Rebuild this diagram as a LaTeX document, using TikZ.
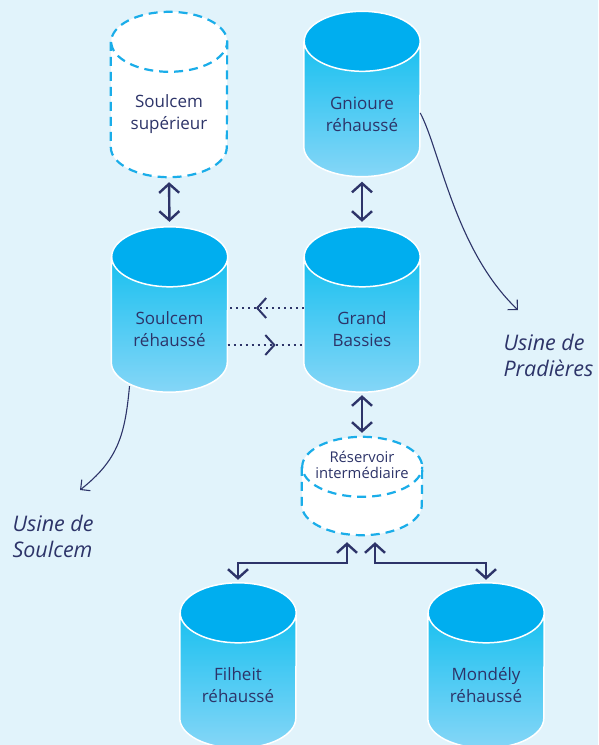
\documentclass[tikz,border=0pt]{standalone}
\usepackage{fontspec}
\setmainfont{Open Sans}
\usetikzlibrary{arrows.meta,decorations.markings,positioning}

\definecolor{fond}{HTML}{E1F3FB}
\definecolor{bleuhaut}{HTML}{00AEEF}
\definecolor{bleucorps}{HTML}{00BBEE}
\definecolor{bleubas}{HTML}{85D6F7}
\definecolor{tiret}{HTML}{1AADE9}
\definecolor{marine}{HTML}{2D3469}

% cylindre dessine autour du noeud #1 (style #2, demi-largeur #3)
\newcommand{\cuve}[3]{%
    \path[#2] ([yshift=-30pt]#1.north west) -- ([yshift=30pt]#1.south west)
        arc[start angle=180, end angle=360, x radius=#3pt, y radius=30pt]
        -- ([yshift=-30pt]#1.north east)
        arc[start angle=0, end angle=180, x radius=#3pt, y radius=30pt] -- cycle;
    \path[#2 haut] ([yshift=-30pt]#1.north) ellipse[x radius=#3pt, y radius=30pt];
    \draw[#2 trait] ([yshift=-30pt]#1.north west) -- ([yshift=30pt]#1.south west)
        arc[start angle=180, end angle=360, x radius=#3pt, y radius=30pt]
        -- ([yshift=-30pt]#1.north east)
        arc[start angle=0, end angle=360, x radius=#3pt, y radius=30pt];
}

\tikzset{
    cuve/.style={rectangle, inner sep=0pt, minimum width=116pt, minimum height=165pt},
    bassin/.style={top color=bleucorps, bottom color=bleubas},
    bassin haut/.style={fill=bleuhaut},
    bassin trait/.style={draw=white, line width=1.5pt, line join=round},
    projet/.style={fill=white},
    projet haut/.style={},
    projet trait/.style={draw=tiret, line width=2.2pt, dash pattern=on 9pt off 6pt},
    nom/.style={text=marine, align=center, font=\fontsize{17}{22}\selectfont},
    usine/.style={text=marine, align=left, font=\itshape\fontsize{21.5}{26}\selectfont},
    duo/.style={marine, line width=2.4pt,
        {Straight Barb[length=9pt,width=20pt]}-{Straight Barb[length=9pt,width=20pt]},
        shorten <=5pt, shorten >=5pt},
    pointille/.style={marine, line width=2pt, dash pattern=on 2pt off 4pt,
        postaction={decorate, decoration={markings,
            mark=at position 0.63 with {\arrow{Straight Barb[length=9pt,width=20pt]}}}}},
    fleche/.style={marine, line width=1.1pt, -{Straight Barb[length=7pt,width=14pt]}}
}

\begin{document}
\begin{tikzpicture}[x=1pt, y=-1pt]
    \useasboundingbox[fill=fond] (0,0) rectangle (598,745);

    % reservoirs
    \node[cuve] (soup) at (169,94.5) {};
    \node[cuve] (gnioure) at (362,94) {};
    \node[cuve] (soulr) at (169.5,309.5) {};
    \node[cuve] (grand) at (362,309.5) {};
    \node[cuve, minimum width=120pt, minimum height=98pt] (inter) at (362,486) {};
    \node[cuve] (filheit) at (238,665.5) {};
    \node[cuve] (mondely) at (486,665.5) {};

    \cuve{soup}{projet}{58}
    \cuve{gnioure}{bassin}{58}
    \cuve{soulr}{bassin}{58}
    \cuve{grand}{bassin}{58}
    \cuve{inter}{projet}{60}
    \cuve{filheit}{bassin}{58}
    \cuve{mondely}{bassin}{58}

    \node[nom] (t-soup) at ([yshift=-20pt]soup.center) {Soulcem\\supérieur};
    \node[nom] (t-gnioure) at ([yshift=-20pt]gnioure.center) {Gnioure\\réhaussé};
    \node[nom] (t-soulr) at ([yshift=-20pt]soulr.center) {Soulcem\\réhaussé};
    \node[nom] (t-grand) at ([yshift=-20pt]grand.center) {Grand\\Bassies};
    \node[nom, font=\fontsize{14.8}{16.5}\selectfont] (t-inter) at ([yshift=21pt]inter.center) {Réservoir\\intermédiaire};
    \node[nom] (t-filheit) at ([yshift=-20pt]filheit.center) {Filheit\\réhaussé};
    \node[nom] (t-mondely) at ([yshift=-20pt]mondely.center) {Mondély\\réhaussé};

    % liaisons
    \draw[duo] (soup.south) -- (soulr.north);
    \draw[duo] (gnioure.south) -- (grand.north);
    \draw[duo, shorten >=4pt, shorten <=3pt] (grand.south) -- (inter.north);

    \draw[pointille] ([yshift=1.5pt]grand.west) -- ([yshift=1.5pt]soulr.east);
    \draw[pointille] ([yshift=-35.5pt]soulr.east) -- ([yshift=-35.5pt]grand.west);

    \coordinate (fourche) at (362,563);
    \draw[duo, shorten <=7pt, shorten >=3pt] ([xshift=-15pt]inter.south) |- (fourche -| filheit.north) -- (filheit.north);
    \draw[duo, shorten <=7pt, shorten >=3pt] ([xshift=13pt]inter.south) |- (fourche -| mondely.north) -- (mondely.north);

    % usines
    \coordinate (usoul) at (80,490);
    \coordinate (upra) at (518,310);
    \draw[fleche] ([xshift=-40pt,yshift=6pt]soulr.south) .. controls (125,435) and (118,460) .. (usoul);
    \draw[fleche] (gnioure.-18) .. controls (440,150) and (455,250) .. (upra);

    \node[usine, anchor=west] (n-soul) at (9,536.5) {Usine de\\Soulcem};
    \node[usine, anchor=west] (n-pra) at (500,355) {Usine de\\Pradières};
\end{tikzpicture}
\end{document}
